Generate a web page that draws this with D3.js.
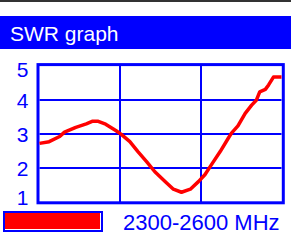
<!DOCTYPE html>
<html>
<head>
<meta charset="utf-8">
<script src="https://cdn.jsdelivr.net/npm/d3@7"></script>
<style>
  html, body { margin: 0; padding: 0; background: #fff; }
  svg { display: block; font-family: "Liberation Sans", Arial, sans-serif; }
</style>
</head>
<body>
<div id="chart"></div>
<script>
// SWR readings across the band (MHz, SWR)
const freqs = [2300, 2312, 2325, 2331, 2345, 2358, 2366, 2372, 2382, 2395, 2401, 2412,
  2422, 2433, 2443, 2456, 2466, 2476, 2487, 2497, 2505, 2513, 2524, 2534, 2538, 2546,
  2555, 2563, 2569, 2573, 2580, 2584, 2590, 2600];
const swr = [2.73, 2.78, 2.93, 3.06, 3.20, 3.30, 3.38, 3.38, 3.29, 3.10, 3.00, 2.78,
  2.49, 2.19, 1.90, 1.61, 1.39, 1.30, 1.39, 1.61, 1.81, 2.10, 2.49, 2.88, 3.03, 3.24,
  3.61, 3.85, 4.00, 4.24, 4.31, 4.44, 4.67, 4.67];
const yTicks = [1, 2, 3, 4, 5];
const xGrid = [2400, 2500];
const title = "SWR graph";
const bandLabel = "2300-2600 MHz";

const width = 291, height = 249;
const blue = "#0000ff", red = "#ff0000";

const svg = d3.select("#chart")
  .append("svg")
  .attr("width", width)
  .attr("height", height);

// top dark strip + title bar
svg.append("rect").attr("x", 0).attr("y", 0).attr("width", width).attr("height", 2).attr("fill", "#333");
svg.append("rect").attr("x", 0).attr("y", 16).attr("width", width).attr("height", 33).attr("fill", blue);
svg.append("text")
  .attr("x", 10).attr("y", 40.7)
  .attr("fill", "#fff")
  .style("font-size", "21px")
  .text(title);

const x = d3.scaleLinear().domain([2300, 2600]).range([39.5, 281.5]);
const y = d3.scaleLinear().domain([1, 5]).range([202.5, 65.8]);

// grid
svg.append("g").selectAll("line")
  .data(yTicks.slice(1, -1))
  .join("line")
  .attr("x1", x(2300)).attr("x2", x(2600))
  .attr("y1", d => Math.round(y(d))).attr("y2", d => Math.round(y(d)))
  .attr("stroke", blue).attr("stroke-width", 2);

svg.append("g").selectAll("line")
  .data(xGrid)
  .join("line")
  .attr("x1", d => Math.round(x(d))).attr("x2", d => Math.round(x(d)))
  .attr("y1", y(5)).attr("y2", y(1))
  .attr("stroke", blue).attr("stroke-width", 2);

// frame
svg.append("rect")
  .attr("x", x(2300) - 1.5).attr("y", y(5) - 1.2)
  .attr("width", x(2600) - x(2300) + 3.3)
  .attr("height", y(1) - y(5) + 1.5)
  .attr("fill", "none")
  .attr("stroke", blue).attr("stroke-width", 3);

// y labels
svg.append("g").selectAll("text")
  .data(yTicks)
  .join("text")
  .attr("x", 22.5)
  .attr("y", d => Math.min(Math.max(y(d), 69), 197))
  .attr("dy", "0.36em")
  .attr("text-anchor", "middle")
  .attr("fill", blue)
  .style("font-size", "21px")
  .text(d => d);

// SWR curve
const points = freqs.map((f, i) => [f, swr[i]]);
const line = d3.line()
  .x(d => x(d[0]))
  .y(d => y(d[1]));

svg.append("path")
  .datum(points)
  .attr("fill", "none")
  .attr("stroke", red)
  .attr("stroke-width", 3.5)
  .attr("stroke-linejoin", "round")
  .attr("d", line);

// legend
svg.append("rect").attr("x", 3).attr("y", 211).attr("width", 100).attr("height", 21).attr("fill", blue);
svg.append("rect").attr("x", 5).attr("y", 213).attr("width", 96).attr("height", 17).attr("fill", "#fff");
svg.append("rect").attr("x", 5).attr("y", 213).attr("width", 95).attr("height", 16).attr("fill", red);
svg.append("text")
  .attr("x", 123).attr("y", 230)
  .attr("fill", blue)
  .style("font-size", "22px")
  .text(bandLabel);
</script>
</body>
</html>
